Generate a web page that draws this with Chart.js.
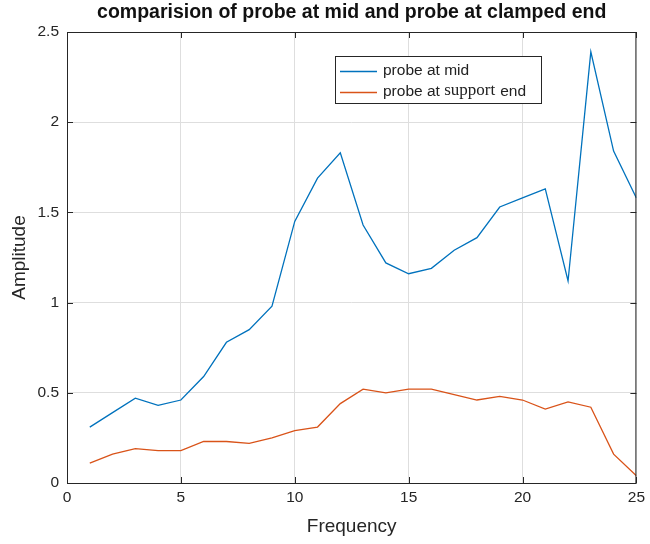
<!DOCTYPE html>
<html>
<head>
<meta charset="utf-8">
<script src="https://cdn.jsdelivr.net/npm/chart.js@4.4.1/dist/chart.umd.min.js"></script>
<style>
  html, body { margin: 0; padding: 0; background: #fff; }
  #wrap { width: 650px; height: 544px; }
</style>
</head>
<body>
<div id="wrap"><canvas id="probeChart" width="650" height="544"></canvas></div>
<script>
const frequency = [1, 2, 3, 4, 5, 6, 7, 8, 9, 10, 11, 12, 13, 14, 15, 16, 17, 18, 19, 20, 21, 22, 23, 24, 25];
const probeMid = [0.31, 0.39, 0.47, 0.43, 0.46, 0.59, 0.78, 0.85, 0.98, 1.45, 1.69, 1.83, 1.43, 1.22, 1.16, 1.19, 1.29, 1.36, 1.53, 1.58, 1.63, 1.12, 2.39, 1.84, 1.58];
const probeSupport = [0.11, 0.16, 0.19, 0.18, 0.18, 0.23, 0.23, 0.22, 0.25, 0.29, 0.31, 0.44, 0.52, 0.50, 0.52, 0.52, 0.49, 0.46, 0.48, 0.46, 0.41, 0.45, 0.42, 0.16, 0.04];
const xTicks = [0, 5, 10, 15, 20, 25];
const yTicks = [0, 0.5, 1, 1.5, 2, 2.5];
const titleText = 'comparision of probe at mid and probe at clamped end';

const blue = '#0072BD';
const orange = '#D95319';
const axisColor = '#262626';
const sans = '"Liberation Sans", Arial, sans-serif';

function toPoints(ys) {
    return frequency.map((f, i) => ({ x: f, y: ys[i] }));
}

// box around the axes plus small inward tick marks, like matlab
const boxPlugin = {
    id: 'box',
    afterDraw(chart) {
        const { ctx, chartArea: a, scales } = chart;
        ctx.save();
        ctx.strokeStyle = axisColor;
        ctx.lineWidth = 1;
        ctx.strokeRect(a.left + 0.5, a.top + 0.5, a.right - a.left - 1, a.bottom - a.top);
        ctx.beginPath();
        xTicks.forEach(t => {
            const x = Math.round(scales.x.getPixelForValue(t)) + 0.5;
            ctx.moveTo(x, a.bottom); ctx.lineTo(x, a.bottom - 6);
            ctx.moveTo(x, a.top); ctx.lineTo(x, a.top + 6);
        });
        yTicks.forEach(t => {
            const y = Math.round(scales.y.getPixelForValue(t)) + 0.5;
            ctx.moveTo(a.left, y); ctx.lineTo(a.left + 6, y);
            ctx.moveTo(a.right, y); ctx.lineTo(a.right - 6, y);
        });
        ctx.stroke();

        // title centred over the axes, not the whole canvas
        ctx.fillStyle = '#111';
        ctx.font = 'bold 19.5px ' + sans;
        ctx.textAlign = 'center';
        ctx.textBaseline = 'middle';
        ctx.fillText(titleText, (a.left + a.right) / 2, 13);
        ctx.restore();
    }
};

// legend drawn inside the axes
const legendPlugin = {
    id: 'insideLegend',
    afterDraw(chart) {
        const ctx = chart.ctx;
        const bx = 335, by = 56, bw = 206, bh = 47;
        ctx.save();
        ctx.fillStyle = '#fff';
        ctx.fillRect(bx, by, bw, bh);
        ctx.strokeStyle = axisColor;
        ctx.lineWidth = 1;
        ctx.strokeRect(bx + 0.5, by + 0.5, bw, bh);
        const rows = [71, 92];
        chart.data.datasets.forEach((ds, i) => {
            const y = rows[i];
            ctx.strokeStyle = ds.borderColor;
            ctx.lineWidth = 1.3;
            ctx.beginPath();
            ctx.moveTo(340, y + 0.5);
            ctx.lineTo(377, y + 0.5);
            ctx.stroke();
        });
        ctx.fillStyle = '#222';
        ctx.textBaseline = 'middle';
        ctx.font = '15.5px ' + sans;
        ctx.fillText('probe at mid', 383, rows[0]);
        let x = 383;
        ctx.fillText('probe at ', x, rows[1]);
        x += ctx.measureText('probe at ').width;
        ctx.font = '17px "Liberation Serif", "Times New Roman", serif';
        ctx.fillText('support', x, rows[1] - 1);
        x += ctx.measureText('support').width + 5;
        ctx.font = '15.5px ' + sans;
        ctx.fillText('end', x, rows[1]);
        ctx.restore();
    }
};

const ctx = document.getElementById('probeChart').getContext('2d');
const chart = new Chart(ctx, {
    type: 'line',
    data: {
        datasets: [{
            label: 'probe at mid',
            data: toPoints(probeMid),
            borderColor: blue,
            borderWidth: 1.3,
            pointRadius: 0,
            tension: 0
        }, {
            label: 'probe at support end',
            data: toPoints(probeSupport),
            borderColor: orange,
            borderWidth: 1.3,
            pointRadius: 0,
            tension: 0
        }]
    },
    options: {
        responsive: false,
        animation: false,
        layout: { padding: { left: 0, right: 12, top: 32, bottom: 0 } },
        plugins: {
            legend: { display: false },
            tooltip: { enabled: false },
            title: { display: false }
        },
        scales: {
            x: {
                type: 'linear',
                min: 0,
                max: 25,
                afterFit: s => { s.height = 61; },
                afterBuildTicks: s => { s.ticks = xTicks.map(v => ({ value: v })); },
                grid: { color: '#dedede', drawTicks: false },
                border: { display: false },
                ticks: {
                    color: axisColor,
                    padding: 5,
                    maxRotation: 0,
                    font: { family: sans, size: 15.5 },
                    callback: v => String(v)
                },
                title: {
                    display: true,
                    text: 'Frequency',
                    color: axisColor,
                    font: { family: sans, size: 19 },
                    padding: { top: 0, bottom: 5.6 }
                }
            },
            y: {
                min: 0,
                max: 2.5,
                afterFit: s => { s.width = 67; },
                afterBuildTicks: s => { s.ticks = yTicks.map(v => ({ value: v })); },
                grid: { color: '#dedede', drawTicks: false },
                border: { display: false },
                ticks: {
                    color: axisColor,
                    padding: 8,
                    font: { family: sans, size: 15.5 },
                    callback: v => String(v)
                },
                title: {
                    display: true,
                    text: 'Amplitude',
                    color: axisColor,
                    font: { family: sans, size: 19 },
                    padding: { top: 8.6, bottom: 0 }
                }
            }
        }
    },
    plugins: [boxPlugin, legendPlugin]
});
</script>
</body>
</html>
